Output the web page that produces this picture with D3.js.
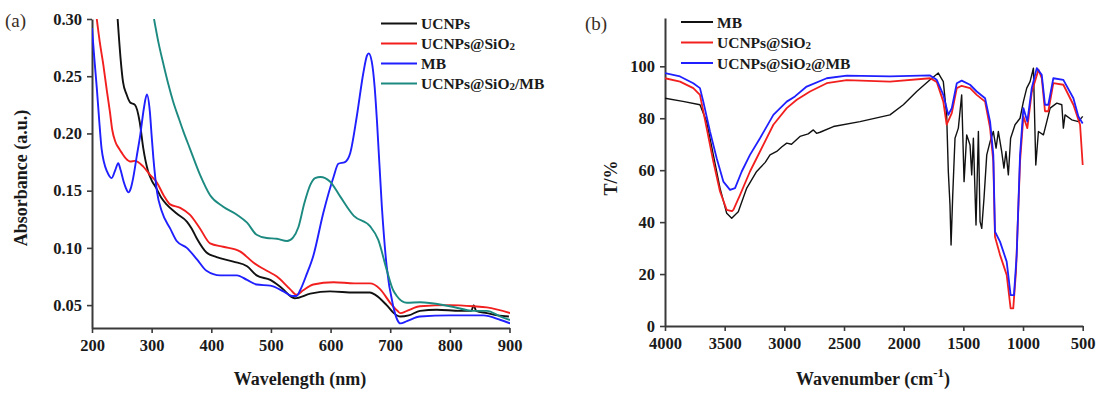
<!DOCTYPE html>
<html>
<head>
<meta charset="utf-8">
<script src="https://cdn.jsdelivr.net/npm/d3@7"></script>
<style>
  body { margin: 0; background: #fff; }
  text { font-family: "Liberation Serif", "Times New Roman", serif; }
</style>
</head>
<body>
<div id="chart"></div>
<script>
// ---- panel (a): UV-vis absorbance, [wavelength nm, absorbance] ----
const ucnpsUV = [[243,0.300],[248,0.265],[252,0.245],[258,0.234],[264,0.227],[272,0.225],[280,0.210],[286,0.187],[294,0.167],[300,0.159],[308,0.152],[316,0.144],[325,0.138],[342,0.130],[359,0.123],[367,0.117],[376,0.108],[392,0.096],[409,0.092],[437,0.088],[460,0.084],[476,0.076],[499,0.072],[518,0.065],[540,0.056],[566,0.060],[599,0.062],[640,0.061],[666,0.061],[675,0.059],[694,0.050],[706,0.043],[717,0.040],[731,0.041],[750,0.045],[778,0.046],[817,0.045],[836,0.045],[840,0.050],[844,0.045],[862,0.043],[880,0.041],[899,0.040]];
const sio2UV = [[208,0.300],[213,0.280],[219,0.260],[225,0.237],[230,0.219],[234,0.203],[239,0.193],[245,0.187],[250,0.183],[257,0.178],[264,0.1755],[272,0.176],[286,0.171],[297,0.164],[309,0.157],[320,0.146],[331,0.138],[348,0.135],[364,0.129],[381,0.117],[398,0.104],[420,0.101],[448,0.097],[471,0.087],[493,0.080],[510,0.075],[532,0.064],[543,0.059],[554,0.063],[571,0.068],[605,0.070],[640,0.069],[666,0.069],[683,0.064],[700,0.052],[712,0.045],[717,0.043],[728,0.045],[750,0.049],[800,0.050],[840,0.049],[862,0.048],[901,0.043]];
const mbUV = [[200,0.292],[204,0.265],[208,0.240],[212,0.212],[216,0.187],[220,0.175],[225,0.167],[233,0.161],[239,0.168],[244,0.174],[248,0.168],[253,0.158],[257,0.152],[261,0.1485],[265,0.152],[269,0.161],[275,0.180],[281,0.199],[287,0.222],[292,0.234],[297,0.219],[300,0.198],[303,0.178],[309,0.149],[317,0.132],[331,0.117],[342,0.106],[359,0.100],[376,0.090],[392,0.080],[415,0.076],[443,0.076],[460,0.072],[476,0.068],[499,0.067],[521,0.062],[535,0.058],[543,0.058],[549,0.063],[560,0.077],[571,0.093],[588,0.131],[605,0.162],[613,0.1735],[624,0.175],[633,0.183],[644,0.215],[655,0.253],[661,0.268],[664,0.270],[669,0.263],[674,0.240],[678,0.209],[686,0.136],[694,0.084],[705,0.049],[712,0.037],[717,0.034],[728,0.036],[750,0.040],[800,0.041],[856,0.041],[885,0.037],[901,0.034]];
const sio2mbUV = [[304,0.300],[312,0.278],[320,0.260],[328,0.243],[336,0.228],[345,0.214],[353,0.202],[364,0.187],[381,0.164],[398,0.146],[420,0.136],[443,0.129],[460,0.122],[476,0.1115],[493,0.1086],[510,0.108],[527,0.106],[537,0.109],[546,0.118],[556,0.139],[566,0.155],[574,0.161],[583,0.162],[599,0.158],[616,0.145],[639,0.128],[666,0.119],[680,0.107],[694,0.081],[705,0.063],[711,0.058],[728,0.052],[750,0.0525],[800,0.049],[840,0.045],[862,0.045],[885,0.040],[901,0.037]];

const uvXTicks = [200,300,400,500,600,700,800,900];
const uvYTicks = [0.05,0.10,0.15,0.20,0.25,0.30];

// ---- panel (b): FTIR, [wavenumber cm-1, T %] ----
const mbIR = [[4000,87.7],[3850,86.5],[3707,85.2],[3651,78.7],[3595,65.9],[3539,53.1],[3483,43.4],[3441,41.5],[3386,44],[3315,53.1],[3232,59.5],[3160,63],[3120,65.9],[3064,67.2],[3020,69],[2980,70.4],[2940,70],[2869,73],[2800,74],[2757,75.5],[2730,74.2],[2701,74.6],[2589,76.8],[2366,78.7],[2115,81.3],[2003,85.2],[1891,90.3],[1779,94.8],[1710,97.4],[1668,94.1],[1640,81.3],[1626,59.5],[1612,46.6],[1603,31.2],[1589,50.5],[1570,72.3],[1542,76.2],[1514,89],[1494,55.6],[1472,73.6],[1444,69.7],[1430,58.2],[1416,72.3],[1394,38.9],[1374,74.9],[1360,40.2],[1346,37.6],[1327,49.2],[1304,65.9],[1276,71],[1249,74.9],[1226,68.5],[1207,74.9],[1179,67.2],[1160,60.8],[1143,67.2],[1123,58.2],[1104,72.3],[1067,77.5],[1025,80],[997,86.4],[969,91.6],[941,94.1],[913,99.3],[893,62],[871,74.9],[829,73.6],[801,78.7],[773,83.9],[717,85.8],[675,85.2],[662,76.2],[648,81.3],[592,79.4],[536,78.7],[500,80.7]];
const sio2IR = [[4000,95.4],[3874,94.1],[3763,91.6],[3707,89],[3651,76.2],[3595,63.3],[3539,51.8],[3483,44.7],[3440,44.2],[3427,44.7],[3371,50.5],[3288,59.5],[3204,67.2],[3092,77.5],[2980,83.9],[2896,87.1],[2785,90.3],[2645,93.5],[2477,94.7],[2115,94.1],[1779,95.4],[1723,94],[1668,86.4],[1640,77.5],[1597,82],[1555,91.6],[1514,92.5],[1444,91.6],[1388,89],[1318,86.4],[1276,76.2],[1249,63.3],[1235,34.4],[1193,27.4],[1137,19.7],[1104,6.8],[1082,6.8],[1059,20.9],[1025,63.3],[997,80.7],[964,76.2],[927,90],[871,98.7],[843,95.4],[816,82.7],[788,82.7],[746,93.5],[662,92.9],[578,85.2],[522,77.5],[500,62]];
const sio2mbIR = [[4000,97.4],[3874,96.1],[3763,93.5],[3707,91.6],[3679,86.4],[3623,74.9],[3567,64.6],[3511,55.6],[3455,52.4],[3413,53.1],[3357,59.5],[3288,65.9],[3204,72.3],[3092,81.3],[2980,86.4],[2911,88.4],[2813,92.2],[2645,95.4],[2477,96.4],[2115,96.1],[1779,96.5],[1723,94.8],[1668,89],[1626,81.3],[1597,83.9],[1555,93.5],[1514,94.5],[1444,92.9],[1388,90.3],[1318,87.7],[1276,78.7],[1249,65.9],[1235,36.3],[1193,32.5],[1137,24.8],[1104,11.9],[1076,11.9],[1053,27.4],[1025,65.9],[997,83.9],[964,78.7],[927,91.6],[885,99.3],[843,96.7],[816,85.2],[788,85.2],[746,95.4],[662,94.8],[578,87.7],[536,80.7],[500,78]];

const irXTicks = [4000,3500,3000,2500,2000,1500,1000,500];
const irYTicks = [0,20,40,60,80,100];

const uvLegend = ["UCNPs", "UCNPs@SiO|2", "MB", "UCNPs@SiO|2/MB"];
const irLegend = ["MB", "UCNPs@SiO|2", "UCNPs@SiO|2@MB"];

const BLACK = "#111", RED = "#f21f1f", BLUE = "#1f1fff", TEAL = "#1c8a80";

const svg = d3.select("#chart").append("svg")
  .attr("width", 1100).attr("height", 397);

function styleAxis(g) {
  g.selectAll(".domain").attr("stroke", "#3a3a3a").attr("stroke-width", 2);
  g.selectAll(".tick line").attr("stroke", "#3a3a3a").attr("stroke-width", 1.6);
  g.selectAll(".tick text")
    .attr("fill", "#1a1a1a")
    .attr("font-family", "'Liberation Serif', 'Times New Roman', serif")
    .attr("font-weight", "bold")
    .attr("font-size", 16.5);
}

// label with "|" marking a subscript part
function legendText(sel, label) {
  const parts = label.split("|");
  sel.append("tspan").text(parts[0]);
  if (parts.length > 1) {
    const rest = parts[1];
    sel.append("tspan").attr("font-size", 11).attr("dy", 1).text(rest[0]);
    if (rest.length > 1) sel.append("tspan").attr("dy", -1).text(rest.slice(1));
  }
}

// ================= panel (a) =================
const xa = d3.scaleLinear().domain([200, 900]).range([92, 509.5]);
const ya = d3.scaleLinear().domain([0.03, 0.30]).range([328, 19]);

svg.append("clipPath").attr("id", "clipA").append("rect")
  .attr("x", 92).attr("y", 19).attr("width", 418).attr("height", 309);

const gxA = svg.append("g").attr("transform", "translate(0,328)")
  .call(d3.axisBottom(xa).tickValues(uvXTicks).tickSize(5).tickSizeOuter(0).tickPadding(6).tickFormat(d3.format("d")));
styleAxis(gxA);
const gyA = svg.append("g").attr("transform", "translate(92,0)")
  .call(d3.axisLeft(ya).tickValues(uvYTicks).tickSize(5).tickSizeOuter(0).tickPadding(5).tickFormat(d3.format(".2f")));
styleAxis(gyA);

const lineA = d3.line().x(d => xa(d[0])).y(d => ya(d[1])).curve(d3.curveMonotoneX);
const uvSeries = [[ucnpsUV, BLACK], [sio2UV, RED], [mbUV, BLUE], [sio2mbUV, TEAL]];
const plotA = svg.append("g").attr("clip-path", "url(#clipA)");
plotA.selectAll("path").data(uvSeries).enter().append("path")
  .attr("d", d => lineA(d[0]))
  .attr("fill", "none")
  .attr("stroke", d => d[1])
  .attr("stroke-width", 1.9);

// legend (a)
const legA = svg.append("g");
uvLegend.forEach((lab, i) => {
  const y = 23.5 + i * 20;
  legA.append("line").attr("x1", 381).attr("x2", 417).attr("y1", y).attr("y2", y)
    .attr("stroke", uvSeries[i][1]).attr("stroke-width", 2);
  const t = legA.append("text").attr("x", 421).attr("y", y + 5.5)
    .attr("font-weight", "bold").attr("font-size", 15.5).attr("fill", "#1a1a1a");
  legendText(t, lab);
});

svg.append("text").attr("x", 5).attr("y", 27).attr("font-size", 19).attr("fill", "#3a2e25").text("(a)");
svg.append("text").attr("transform", "translate(27,178) rotate(-90)")
  .attr("text-anchor", "middle").attr("font-weight", "bold").attr("font-size", 18).attr("fill", "#1a1a1a")
  .text("Absorbance (a.u.)");
svg.append("text").attr("x", 300).attr("y", 385)
  .attr("text-anchor", "middle").attr("font-weight", "bold").attr("font-size", 18).attr("fill", "#1a1a1a")
  .text("Wavelength (nm)");

// ================= panel (b) =================
const xb = d3.scaleLinear().domain([4000, 500]).range([665, 1082.7]);
const yb = d3.scaleLinear().domain([0, 118.6]).range([326, 18]);

svg.append("clipPath").attr("id", "clipB").append("rect")
  .attr("x", 665).attr("y", 18).attr("width", 420).attr("height", 308);

const gxB = svg.append("g").attr("transform", "translate(0,326)")
  .call(d3.axisBottom(xb).tickValues(irXTicks).tickSize(5).tickSizeOuter(0).tickPadding(6).tickFormat(d3.format("d")));
styleAxis(gxB);
const gyB = svg.append("g").attr("transform", "translate(665,0)")
  .call(d3.axisLeft(yb).tickValues(irYTicks).tickSize(5).tickSizeOuter(0).tickPadding(5).tickFormat(d3.format("d")));
styleAxis(gyB);

const lineB = d3.line().x(d => xb(d[0])).y(d => yb(d[1]));
const irSeries = [[mbIR, BLACK, 1.4], [sio2IR, RED, 1.8], [sio2mbIR, BLUE, 1.8]];
const plotB = svg.append("g").attr("clip-path", "url(#clipB)");
plotB.selectAll("path").data(irSeries).enter().append("path")
  .attr("d", d => lineB(d[0]))
  .attr("fill", "none")
  .attr("stroke", d => d[1])
  .attr("stroke-width", d => d[2])
  .attr("stroke-linejoin", "round");

// legend (b)
const legB = svg.append("g");
irLegend.forEach((lab, i) => {
  const y = 22 + i * 20.5;
  legB.append("line").attr("x1", 681).attr("x2", 713).attr("y1", y).attr("y2", y)
    .attr("stroke", irSeries[i][1]).attr("stroke-width", 2);
  const t = legB.append("text").attr("x", 717).attr("y", y + 5.5)
    .attr("font-weight", "bold").attr("font-size", 15.5).attr("fill", "#1a1a1a");
  legendText(t, lab);
});

svg.append("text").attr("x", 585).attr("y", 30).attr("font-size", 19)
  .attr("font-family", "'Liberation Sans', Arial, sans-serif").attr("fill", "#3a2e25").text("(b)");
svg.append("text").attr("transform", "translate(617,178) rotate(-90)")
  .attr("text-anchor", "middle").attr("font-weight", "bold").attr("font-size", 18).attr("fill", "#1a1a1a")
  .text("T/%");
const xl = svg.append("text").attr("x", 873).attr("y", 385)
  .attr("text-anchor", "middle").attr("font-weight", "bold").attr("font-size", 18).attr("fill", "#1a1a1a");
xl.append("tspan").text("Wavenumber (cm");
xl.append("tspan").attr("dy", -8).attr("font-size", 13).text("-1");
xl.append("tspan").attr("dy", 8).text(")");
</script>
</body>
</html>
